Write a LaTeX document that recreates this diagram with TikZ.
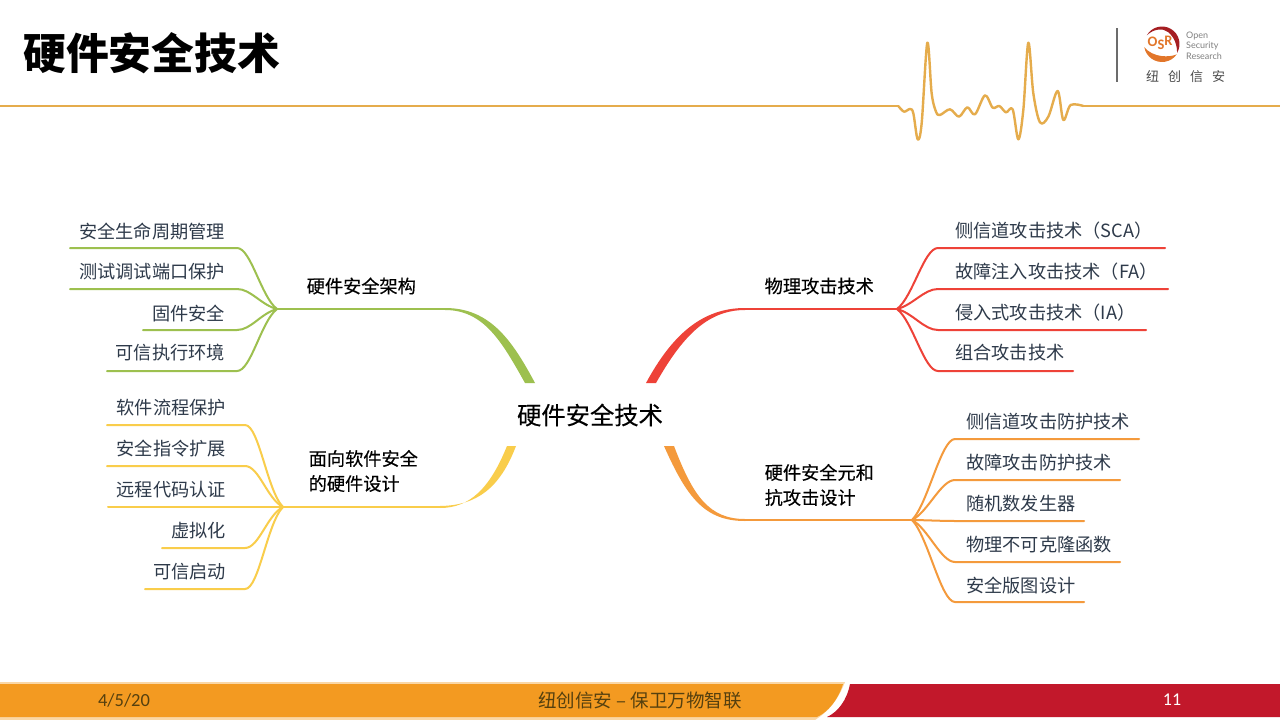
\documentclass[tikz,border=0pt]{standalone}
\usepackage{fontspec}
\setmainfont{Noto Sans CJK SC}
\newfontfamily\medfont[FakeBold=0.25]{Noto Sans CJK SC}
\newfontfamily\latinfont{Carlito}
\newfontfamily\logofont{Lato}
\definecolor{gold}{HTML}{E5AC4C}
\definecolor{cgreen}{HTML}{9DC04F}
\definecolor{cyellow}{HTML}{F9CD4B}
\definecolor{cred}{HTML}{EE4238}
\definecolor{corange}{HTML}{F49A3C}
\definecolor{leaftext}{HTML}{2E3A4A}
\definecolor{footorange}{HTML}{F39A21}
\definecolor{footred}{HTML}{C2182B}
\definecolor{foottext}{HTML}{55400F}
\definecolor{logored}{HTML}{A51E22}
\definecolor{logoorange}{HTML}{E2762A}
\tikzset{
  leaf/.style={font=\fontsize{18.2}{22}\selectfont,text=leaftext,inner sep=0pt},
  branchlabel/.style={font=\medfont\fontsize{18.2}{25}\selectfont,text=black,inner sep=0pt,align=left,anchor=west},
  thinline/.style={line width=2pt,line cap=round},
  logoletter/.style={inner sep=0pt,text=logoorange,font=\latinfont\fontsize{14.5}{15}\selectfont\bfseries},
}
\begin{document}
\begin{tikzpicture}[x=1pt,y=-1pt]
\useasboundingbox (0,0) rectangle (1280,720);
\fill[white] (0,0) rectangle (1280,720);
% header
\node[anchor=west,inner sep=0pt,font=\fontsize{42.8}{46}\selectfont\bfseries] (title) at (23,53) {硬件安全技术};
\begin{scope}[shift={(880,10)},x=0.3333pt,y=-0.3333pt]
\draw[gold,line width=2.4pt,line join=round] plot[smooth,tension=0.55] coordinates {(55,288)(72,305)(90,297)(100,310)(113,388)(125,340)(142,98)(155,250)(168,305)(180,315)(210,298)(237,320)(262,292)(285,313)(315,256)(338,293)(358,288)(378,307)(398,298)(415,388)(430,300)(445,98)(460,250)(480,337)(505,320)(533,243)(550,330)(572,285)(610,288)};
\end{scope}
\draw[gold,line width=2pt] (0,106) -- (898.5,106);
\draw[gold,line width=2pt] (1083,106) -- (1280,106);
% logo
\draw[gray!85!black,line width=1.3pt] (1117,28) -- (1117,82);
\begin{scope}[shift={(1162,44)},x=1pt,y=1pt]
\fill[logored] (150:17.5) arc[start angle=150,end angle=-30,radius=17.5] .. controls (15,-1) and (13,6) .. (6,12) .. controls (1,16) and (-8,15.5) .. (150:17.5) -- cycle;
\fill[logoorange] (190:18) arc[start angle=190,end angle=325,radius=18] .. controls (8,-13.5) and (-9,-14) .. (190:18) -- cycle;
\end{scope}
\node[logoletter] (logoo) at (1152.5,42) {O};
\node[logoletter] (logos) at (1161,45) {S};
\node[logoletter] (logor) at (1168.5,41) {R};
\node[anchor=west,inner sep=0pt,text=gray,font=\logofont\fontsize{9}{10.5}\selectfont,align=left] (logotxt) at (1186,45.5) {Open\\Security\\Research};
\node[inner sep=0pt,text=black!70,font=\fontsize{13}{14}\selectfont] (logocn) at (1185.5,77) {纽\hspace{9pt}创\hspace{9pt}信\hspace{9pt}安};
% hubs
\coordinate (hg) at (277,309);
\coordinate (hy) at (283,507);
\coordinate (hr) at (897,309);
\coordinate (ho) at (912,520);
% central
\node[inner sep=0pt,font=\medfont\fontsize{24.3}{28}\selectfont,text=black] (center) at (590,415) {硬件安全技术};
% main branches (tapered)
\coordinate (gs) at (445,309);
\coordinate (ys) at (440,507);
\coordinate (rs) at (745,309);
\coordinate (os) at (745,520);
\fill[cgreen] (445,308) .. controls (490,308) and (512,340) .. (535,383) -- (525,383) .. controls (502,342) and (484,310) .. (445,310) -- cycle;
\fill[cred] (745,308) .. controls (702,308) and (672,335) .. (646,383) -- (656,383) .. controls (681,339) and (706,310) .. (745,310) -- cycle;
\fill[cyellow] (440,508) .. controls (470,508) and (490,488) .. (507,446) -- (516,446) .. controls (500,488) and (477,505.5) .. (440,506) -- cycle;
\fill[corange] (745,521) .. controls (705,521) and (687,498) .. (664,446) -- (674,446) .. controls (693,496) and (709,519) .. (745,519) -- cycle;
\draw[thinline,cgreen] (hg) -- (gs);
\draw[thinline,cyellow] (hy) -- (ys);
\draw[thinline,cred] (hr) -- (rs);
\draw[thinline,corange] (ho) -- (os);
% branch labels
\node[branchlabel] (bg) at (306.5,286) {硬件安全架构};
\node[branchlabel] (by) at (308.5,471) {面向软件安全\\的硬件设计};
\node[branchlabel] (br) at (764.5,286) {物理攻击技术};
\node[branchlabel] (bo) at (764.5,485) {硬件安全元和\\抗攻击设计};
% green leaves
\foreach \n/\t/\ty/\fx/\ly in {g1/安全生命周期管理/232/70/248,g2/测试调试端口保护/272/70/289,g3/固件安全/313/143/330,g4/可信执行环境/353/107/371}{
  \node[leaf,anchor=east] (\n) at (225,\ty) {\t};
  \coordinate (\n far) at (\fx,\ly);
  \coordinate (\n near) at (237,\ly);
  \draw[thinline,cgreen] (\n far) -- (\n near) .. controls +(14,0) and +(-16,{(\ly-309)*0.2}) .. (hg);
}
% yellow leaves
\foreach \n/\t/\ty/\fx/\ly in {y1/软件流程保护/408/107/425,y2/安全指令扩展/449/107/466,y3/远程代码认证/490/108/507,y4/虚拟化/531/162/548,y5/可信启动/572/145/589}{
  \node[leaf,anchor=east] (\n) at (226,\ty) {\t};
  \coordinate (\n far) at (\fx,\ly);
  \coordinate (\n near) at (245,\ly);
  \draw[thinline,cyellow] (\n far) -- (\n near) .. controls +(14,0) and +(-16,{(\ly-507)*0.2}) .. (hy);
}
% red leaves
\foreach \n/\t/\ty/\fx/\ly in {r1/侧信道攻击技术（SCA）/231/1165/248,r2/故障注入攻击技术（FA）/272/1168/289,r3/侵入式攻击技术（IA）/313/1146/330,r4/组合攻击技术/353/1073/371}{
  \node[leaf,anchor=west] (\n) at (955,\ty) {\t};
  \coordinate (\n far) at (\fx,\ly);
  \coordinate (\n near) at (938,\ly);
  \draw[thinline,cred] (\n far) -- (\n near) .. controls +(-14,0) and +(16,{(\ly-309)*0.2}) .. (hr);
}
% orange leaves
\foreach \n/\t/\ty/\fx/\ly in {o1/侧信道攻击防护技术/422/1139/439,o2/故障攻击防护技术/463/1120/480,o3/随机数发生器/504/1084/521,o4/物理不可克隆函数/545/1120/562,o5/安全版图设计/586/1084/602}{
  \node[leaf,anchor=west] (\n) at (966,\ty) {\t};
  \coordinate (\n far) at (\fx,\ly);
  \coordinate (\n near) at (955,\ly);
  \draw[thinline,corange] (\n far) -- (\n near) .. controls +(-14,0) and +(16,{(\ly-520)*0.2}) .. (ho);
}
% footer
\fill[footorange!40!white] (0,682) -- (845,682) .. controls (838,700) and (828,712) .. (815,720) -- (0,720) -- cycle;
\fill[footorange] (0,684) -- (843,684) .. controls (838,700) and (828,712) .. (817,717) -- (0,717) -- cycle;
\fill[footred] (850,684) .. controls (847,700) and (838,712) .. (827,717) -- (1280,717) -- (1280,684) -- cycle;
\node[inner sep=0pt,text=foottext,font=\latinfont\fontsize{18.5}{20}\selectfont] (fdate) at (124,700) {4/5/20};
\node[inner sep=0pt,text=foottext,font=\fontsize{18.5}{20}\selectfont] (fmid) at (640,700) {纽创信安 – 保卫万物智联};
\node[inner sep=0pt,text=white,font=\latinfont\fontsize{18}{20}\selectfont] (fnum) at (1172,700) {11};
\end{tikzpicture}
\end{document}
